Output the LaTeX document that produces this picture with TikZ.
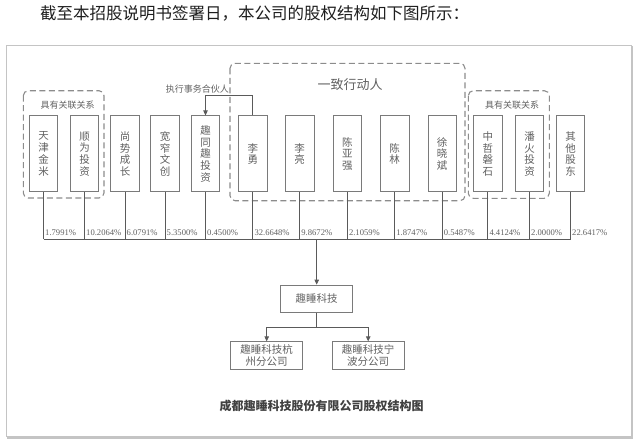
\documentclass[tikz,border=0pt]{standalone}
\usepackage{fontspec}
\setmainfont{Liberation Serif}
\newfontfamily\cjk{Noto Sans CJK SC}
\usetikzlibrary{arrows.meta}
\definecolor{boxgray}{HTML}{7A7A7A}
\definecolor{dashgray}{HTML}{8C8C8C}
\definecolor{linegray}{HTML}{5A5A5A}
\definecolor{txtgray}{HTML}{606060}
\definecolor{framegray}{HTML}{C4C4C4}
\definecolor{headblack}{HTML}{1E1E1E}
\begin{document}
\begin{tikzpicture}[x=1pt,y=-1pt,
  holder/.style={draw=boxgray, line width=0.9pt, minimum width=28.5pt, minimum height=76pt,
    inner sep=0pt, align=center, font=\cjk\fontsize{10.5}{11.7}\selectfont, text=txtgray},
  company/.style={draw=boxgray, line width=0.9pt, minimum width=72pt, minimum height=28pt,
    inner sep=0pt, align=center, font=\cjk\fontsize{10.5}{12}\selectfont, text=txtgray},
  groupbox/.style={draw=dashgray, line width=1.1pt, dash pattern=on 6pt off 3.5pt, rounded corners=5pt},
  link/.style={draw=linegray, line width=0.8pt},
  arr/.style={link, -{Triangle[length=5pt,width=4.5pt]}},
  pct/.style={font=\fontsize{8.6}{9.5}\selectfont, text=txtgray, anchor=west, inner sep=0pt},
  glabel/.style={font=\cjk\fontsize{9}{10}\selectfont, text=txtgray, inner sep=0pt}
]
\useasboundingbox (0,0) rectangle (640,445);
% page frame
\draw[framegray, line width=1pt] (6,45.3) rectangle (631,436.5);
\draw[framegray, line width=2pt] (632,46) -- (632,437.5) -- (7,437.5);
% header
\node[anchor=west, inner sep=0pt, font=\cjk\fontsize{16.5}{18}\selectfont, text=headblack] (head) at (40,13)
  {截至本招股说明书签署日，本公司的股权结构如下图所示：};
% dashed groups
\draw[groupbox] (23.3,90.7) rectangle (104,198);
\draw[groupbox] (230,63.3) rectangle (465,200.7);
\draw[groupbox] (468.3,90.7) rectangle (549.3,198.3);
\node[glabel] (g1) at (67.5,105) {具有关联关系};
\node[glabel] (g3) at (512,105) {具有关联关系};
\node[font=\cjk\fontsize{13}{14}\selectfont, text=txtgray, inner sep=0pt] (g2) at (350,84.3) {一致行动人};
% hub line
\coordinate (hubL) at (43.5,239.3);
\coordinate (hubR) at (570.5,239.3);
\coordinate (hub) at (316.7,239.3);
\foreach \x/\n/\t/\p in {
  43.5/a/{天\\津\\金\\米}/1.7991\%,
  84.5/b/{顺\\为\\投\\资}/10.2064\%,
  125/c/{尚\\势\\成\\长}/6.0791\%,
  165/d/{宽\\窄\\文\\创}/5.3500\%,
  205.5/e/{趣\\同\\趣\\投\\资}/0.4500\%,
  252.8/f/{李\\勇}/32.6648\%,
  299.7/g/{李\\亮}/9.8672\%,
  347.3/h/{陈\\亚\\强}/2.1059\%,
  394.7/i/{陈\\林}/1.8747\%,
  442.2/j/{徐\\晓\\斌}/0.5487\%,
  487.8/k/{中\\哲\\磐\\石}/4.4124\%,
  529.5/l/{潘\\火\\投\\资}/2.0000\%,
  570.5/m/{其\\他\\股\\东}/22.6417\%}{
  \node[holder] (\n) at (\x,153.9) {\t};
  \coordinate (\n h) at (\x,239.3);
  \draw[link] (\n.south) -- (\n h);
  \node[pct] (\n p) at (\x+1.5,232.3) {\p};
}
\draw[link] (hubL) -- (hubR);
% executive partner
\node[glabel, anchor=east] (exec) at (229,89) {执行事务合伙人};
\draw[arr] (f.north) -- ++(0,-20.3) -| (e.north);
% company
\node[company, minimum height=27.7pt] (qs) at (316.7,298.9) {趣睡科技};
\node[company] (hz) at (266.7,355.8) {趣睡科技杭\\州分公司};
\node[company] (nb) at (368.2,355.8) {趣睡科技宁\\波分公司};
\draw[arr] (hub) -- (qs.north);
\draw[arr] (qs.south) -- ++(0,14.6) -| (hz.north);
\draw[arr] (qs.south) -- ++(0,14.6) -| (nb.north);
% caption
\node[font=\cjk\bfseries\fontsize{12}{13}\selectfont, text=headblack!85, inner sep=0pt] (cap) at (321.7,405.7)
  {成都趣睡科技股份有限公司股权结构图};
\end{tikzpicture}
\end{document}
